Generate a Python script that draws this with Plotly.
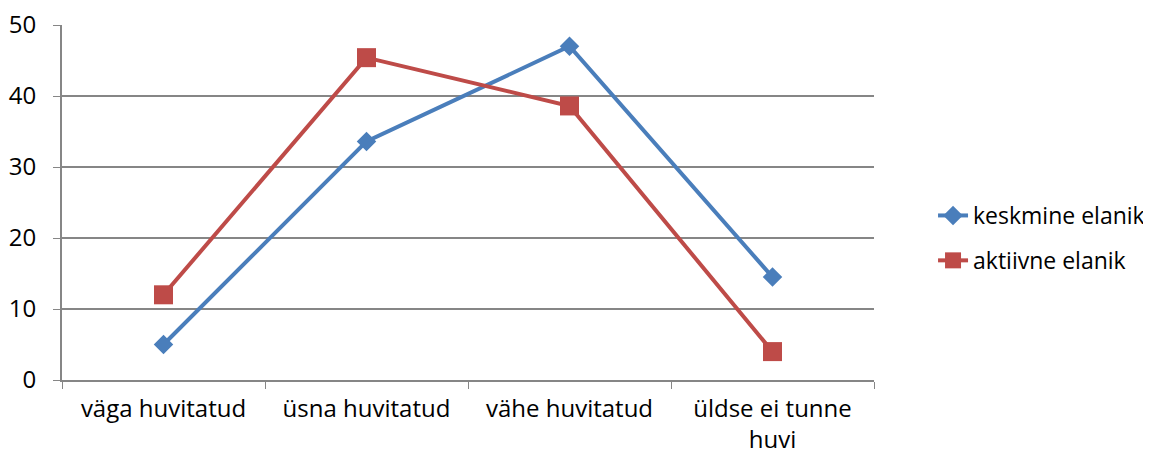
import plotly.graph_objects as go

categories = ["väga huvitatud", "üsna huvitatud", "vähe huvitatud", "üldse ei tunne<br>huvi"]
keskmine = [5, 33.6, 47.0, 14.5]
aktiivne = [12, 45.4, 38.6, 4.0]
y_ticks = [0, 10, 20, 30, 40, 50]

fig = go.Figure()
fig.add_trace(go.Scatter(
    x=categories, y=keskmine, name="keskmine elanik", mode="lines+markers",
    line=dict(color="#4A7EBB", width=4),
    marker=dict(symbol="diamond", size=15, color="#4A7EBB"),
    legendgroup="a",
))
fig.add_trace(go.Scatter(
    x=categories, y=aktiivne, name="aktiivne elanik", mode="lines+markers",
    line=dict(color="#BE4B48", width=4),
    marker=dict(symbol="square", size=19, color="#BE4B48"),
    legendgroup="b",
))

font = dict(family="'Open Sans', sans-serif", size=24, color="#000000")
fig.update_layout(
    width=1151, height=455,
    margin=dict(l=54, r=285, t=17, b=83, autoexpand=False),
    paper_bgcolor="white", plot_bgcolor="white",
    font=font,
    showlegend=True,
    legend=dict(x=1.0727, y=0.4, xanchor="left", yanchor="middle",
                traceorder="grouped", tracegroupgap=12,
                font=dict(family="'Open Sans', sans-serif", size=23, color="#000000")),
    xaxis=dict(type="category", tickson="boundaries", ticks="outside", ticklen=7,
               tickcolor="#868686", showgrid=False, showline=True, linecolor="#868686",
               linewidth=2, range=[-0.5, 3.5], tickfont=font, automargin=False,
               ticklabelstandoff=6, ticklabeloverflow="allow"),
    yaxis=dict(range=[0, 50], tickvals=y_ticks, showgrid=True, gridcolor="#868686",
               gridwidth=1.5, showline=True, linecolor="#868686", linewidth=2,
               ticks="outside", ticklen=7, tickcolor="#868686", zeroline=False,
               tickfont=font, automargin=False, ticklabelstandoff=12,
               ticklabeloverflow="allow"),
)
fig.write_html("out.html")
